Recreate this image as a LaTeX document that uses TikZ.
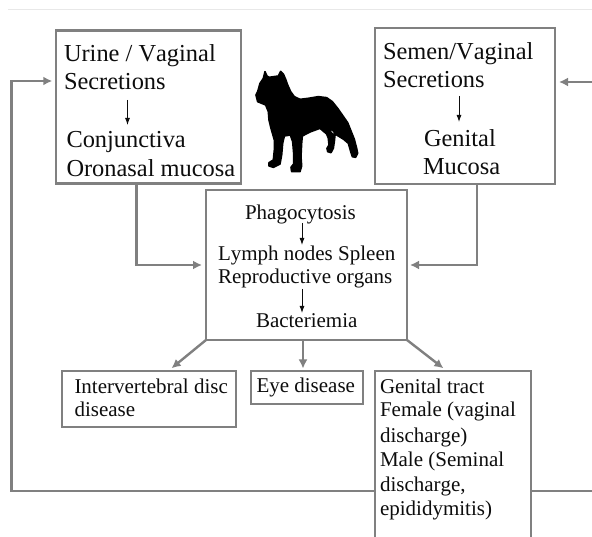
\documentclass[tikz,border=0pt]{standalone}
\usepackage{fontspec}
\setmainfont[Kerning=Off]{Liberation Serif}
\usetikzlibrary{arrows.meta,calc}
\definecolor{linegray}{gray}{0.5}
\definecolor{inkblack}{gray}{0.05}
\tikzset{
  boxnode/.style={draw=linegray,line width=2.4pt,fill=white,inner sep=0pt,outer sep=0pt,rectangle,minimum width=#1},
  bigtext/.style={anchor=base west,inner sep=0pt,outer sep=0pt,text=inkblack,font=\fontsize{24.4}{28}\selectfont},
  smalltext/.style={anchor=base west,inner sep=0pt,outer sep=0pt,text=inkblack,font=\fontsize{21}{24}\selectfont},
  link/.style={draw=linegray,line width=2.4pt,-{Latex[length=9pt,width=9pt]}},
  plainlink/.style={draw=linegray,line width=2.4pt},
  inner arrow/.style={draw=inkblack,line width=0.9pt,-{Latex[length=7pt,width=5pt]}},
}
\begin{document}
\begin{tikzpicture}[x=1pt,y=-1pt]
\useasboundingbox (0,0) rectangle (592,537);
\fill[white] (0,0) rectangle (592,537);
\draw[black!9,line width=0.7pt] (8,9.3) -- (592,9.3);

% feedback line passes behind the genital tract box
\coordinate (leftturn) at (11.5,491);
\coordinate (rightout) at (592,491);
\coordinate (rightin) at (592,82);

% boxes
\node[boxnode=185pt,minimum height=153pt] (A) at (148.75,107) {};
\node[boxnode=180pt,minimum height=156pt] (B) at (465,106) {};
\node[boxnode=201pt,minimum height=150pt] (C) at (306.5,265) {};
\node[boxnode=174pt,minimum height=56pt] (D) at (149,399) {};
\node[boxnode=112pt,minimum height=33pt] (E) at (307,387.5) {};
\node[inner sep=0pt,outer sep=0pt,minimum width=156pt,minimum height=166pt] (F) at (453,454) {};
\draw[linegray,line width=2.4pt] (F.south west) |- (F.north east) -- (F.south east);

% dog silhouette
\begin{scope}[shift={(245,60)},x=0.3333pt,y=-0.3333pt]
\fill[black,draw=black,line width=1.6pt,line join=round]
 (60,35)--(66,48)--(72,52)--(100,48)--(107,34)--(115,42)--(122,58)--(128,75)--(137,95)--(148,110)--(165,118)--(190,115)--(220,110)--(245,113)--(262,125)--(278,145)--(292,165)--(308,188)--(318,213)--(328,238)--(335,265)--(338,280)--(332,292)--(322,290)--(318,278)--(310,250)--(296,238)--(275,225)--(262,210)--(255,205)--(258,218)--(270,226)--(268,245)--(265,265)--(258,278)--(248,275)--(246,265)--(252,255)--(250,235)--(245,222)--(225,205)--(195,216)--(172,228)--(170,250)--(168,290)--(170,318)--(165,335)--(140,335)--(138,322)--(146,312)--(146,280)--(143,245)--(136,225)--(118,228)--(113,250)--(110,285)--(105,312)--(85,322)--(72,318)--(72,308)--(85,300)--(88,270)--(88,240)--(78,205)--(72,180)--(70,155)--(62,135)--(38,125)--(33,105)--(38,95)--(45,70)--(55,55)--cycle;
\end{scope}

% texts
\node[bigtext] (a1) at (64,62) {Urine / Vaginal};
\node[bigtext] (a2) at (64,90) {Secretions};
\node[bigtext] (a3) at (66.5,148) {Conjunctiva};
\node[bigtext] (a4) at (66.5,176.5) {Oronasal mucosa};
\node[bigtext] (b1) at (383,60) {Semen/Vaginal};
\node[bigtext] (b2) at (383,88) {Secretions};
\node[bigtext] (b3) at (424,147) {Genital};
\node[bigtext] (b4) at (423,175) {Mucosa};
\node[smalltext] (c1) at (245,220) {Phagocytosis};
\node[smalltext] (c2) at (218,261) {Lymph nodes Spleen};
\node[smalltext] (c3) at (218,284) {Reproductive organs};
\node[smalltext] (c4) at (256,328) {Bacteriemia};
\node[smalltext] (d1) at (74.5,393) {Intervertebral disc};
\node[smalltext] (d2) at (74.5,417) {disease};
\node[smalltext] (e1) at (256.5,392) {Eye disease};
\node[smalltext] (f1) at (380,393) {Genital tract};
\node[smalltext] (f2) at (380,417) {Female (vaginal};
\node[smalltext] (f3) at (380,442) {discharge)};
\node[smalltext] (f4) at (380,466) {Male (Seminal};
\node[smalltext] (f5) at (380,491) {discharge,};
\node[smalltext] (f6) at (380,515) {epididymitis)};

% inner arrows
\coordinate (ia1) at (127.5,100); \coordinate (ia2) at (127.5,125);
\coordinate (ib1) at (459,96);    \coordinate (ib2) at (459,122);
\coordinate (ic1) at (302,223);   \coordinate (ic2) at (302,245);
\coordinate (ic3) at (302,289);   \coordinate (ic4) at (302,313);
\draw[inner arrow] (ia1) -- (ia2);
\draw[inner arrow] (ib1) -- (ib2);
\draw[inner arrow] (ic1) -- (ic2);
\draw[inner arrow] (ic3) -- (ic4);

% grey connectors
\draw[link,shorten >=4pt] ([xshift=-12.25pt]A.south) |- (C.west);
\draw[link,shorten >=3pt] ([xshift=12pt]B.south) |- (C.east);
\draw[link,shorten >=4pt] (F.west |- leftturn) -- (leftturn) |- (A.west |- 0,81);
\draw[plainlink] (F.east |- rightout) -- (rightout);
\draw[link,shorten >=4pt] (rightin) -- (B.east |- rightin);
\draw[link,shorten >=2pt] (C.south west) -- (170,369.5);
\draw[link,shorten >=2pt] (303,340) -- (303,370.5);
\draw[link,shorten >=2pt] (C.south east) -- (445,369.5);
\end{tikzpicture}
\end{document}
